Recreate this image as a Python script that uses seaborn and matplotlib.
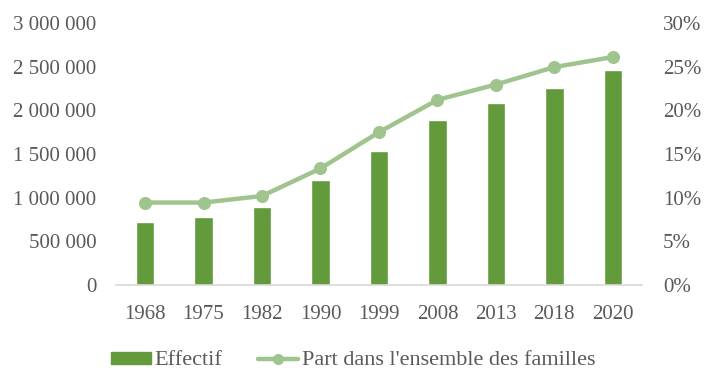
import matplotlib
matplotlib.use("Agg")
import matplotlib.pyplot as plt
from matplotlib.patches import Patch
from matplotlib.lines import Line2D
from matplotlib.ticker import FuncFormatter, MultipleLocator
import seaborn as sns

years = ["1968", "1975", "1982", "1990", "1999", "2008", "2013", "2018", "2020"]
effectif = [717000, 785000, 889000, 1198000, 1530000, 1885000, 2079000, 2251000, 2457000]
part = [9.45, 9.45, 10.2, 13.35, 17.5, 21.2, 22.95, 24.95, 26.1]

bar_color = "#639A3B"
line_color = "#A0C48E"
text_color = "#595959"

sns.set_theme(style="white")
plt.rcParams["font.family"] = ["Liberation Serif", "DejaVu Serif"]
plt.rcParams["font.size"] = 15

fig = plt.figure(figsize=(7.15, 3.89), dpi=100, facecolor="white")
ax1 = fig.add_axes([0.162, 0.267, 0.736, 0.674])

sns.barplot(x=years, y=effectif, color=bar_color, width=0.315, saturation=1, ax=ax1)
ax1.set_ylim(0, 3000000)
ax1.yaxis.set_major_locator(MultipleLocator(500000))
ax1.yaxis.set_major_formatter(FuncFormatter(lambda v, p: f"{int(v):,}".replace(",", " ")))

ax2 = ax1.twinx()
sns.pointplot(x=years, y=part, color=line_color, ax=ax2, markersize=7, linewidth=3.2)
ax2.set_ylim(0, 30)
ax2.yaxis.set_major_locator(MultipleLocator(5))
ax2.yaxis.set_major_formatter(FuncFormatter(lambda v, p: f"{int(v)}%"))
ax1.set_xlim(-0.5, len(years) - 0.5)

for ax in (ax1, ax2):
    for s in ax.spines.values():
        s.set_visible(False)
    ax.tick_params(length=0, colors=text_color, labelsize=15)
    ax.set_xlabel("")
    ax.set_ylabel("")
    ax.grid(False)
ax1.spines["bottom"].set_visible(True)
ax1.spines["bottom"].set_color("#D9D9D9")
ax1.spines["bottom"].set_linewidth(1.2)
ax1.tick_params(axis="y", pad=14)
ax1.tick_params(axis="x", pad=14)
ax2.tick_params(axis="y", pad=15)

handles = [Patch(color=bar_color, label="Effectif"),
           Line2D([], [], color=line_color, lw=3.2, marker="o", markersize=7,
                  label="Part dans l'ensemble des familles")]
fig.legend(handles=handles, loc="center", bbox_to_anchor=(0.494, 0.072), ncol=2,
           frameon=False, fontsize=16, labelcolor=text_color,
           handlelength=1.8, handleheight=0.45, handletextpad=0.15, columnspacing=1.6)

fig.savefig("out.png", dpi=100, facecolor="white")
